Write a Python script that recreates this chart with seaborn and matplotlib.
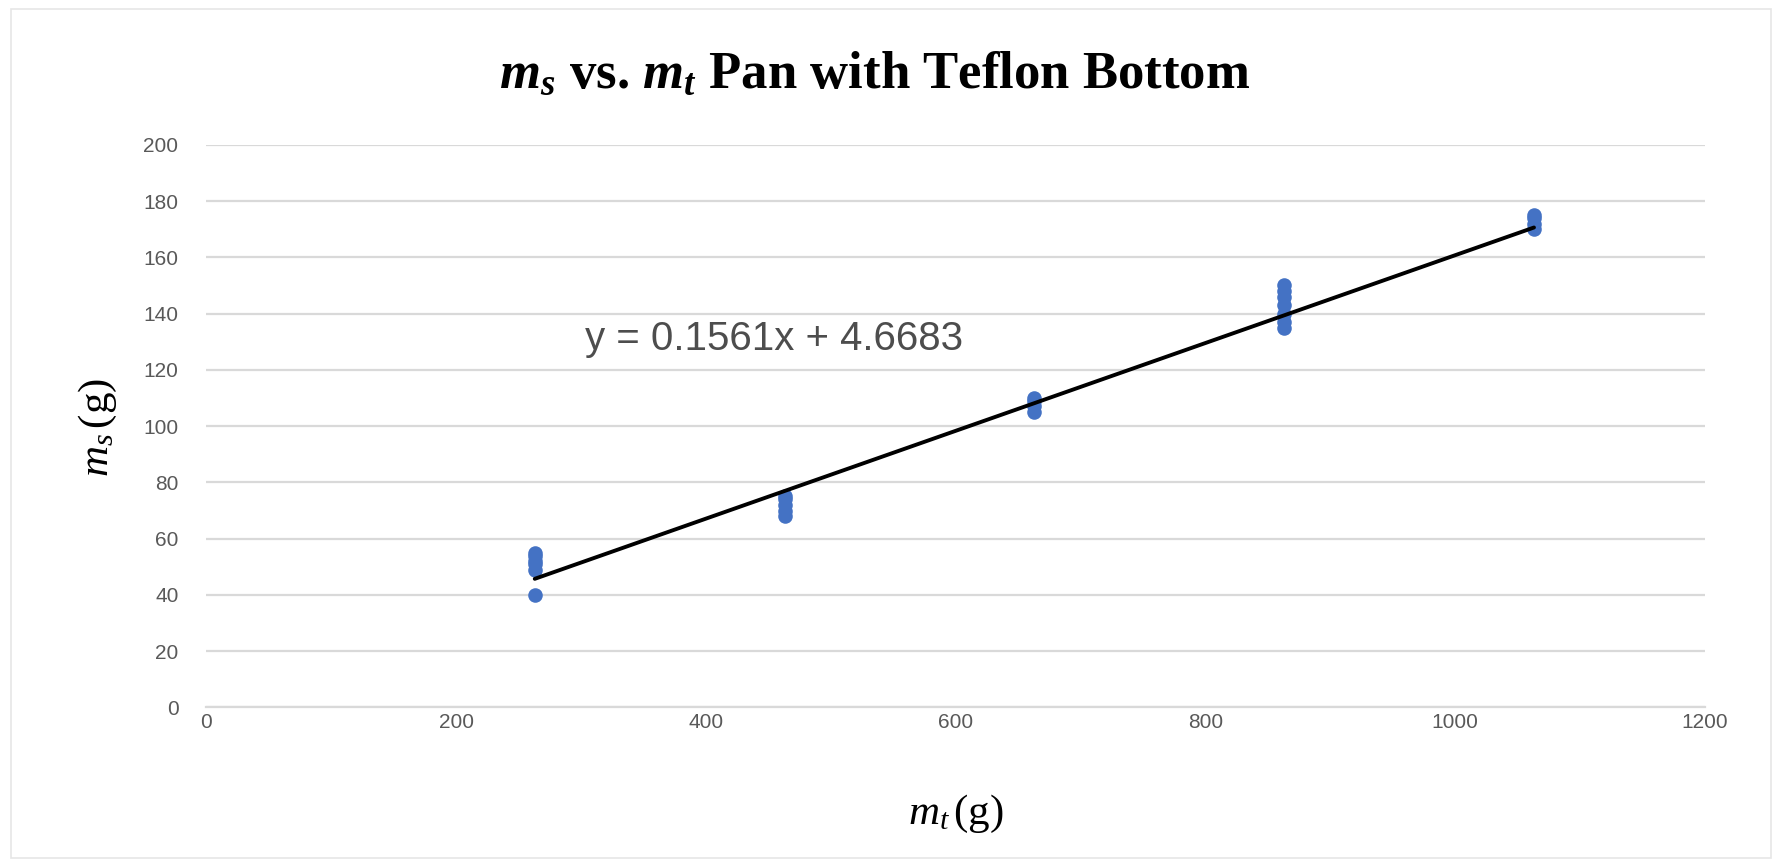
import numpy as np
import pandas as pd
import matplotlib
matplotlib.use("Agg")
import matplotlib.pyplot as plt
import seaborn as sns

# Data
mt_263 = [40, 49, 51, 52, 54, 55]
mt_463 = [68, 70, 72, 74, 75]
mt_663 = [105, 107, 109, 110]
mt_863 = [135, 137, 140, 143, 146, 148, 150]
mt_1063 = [170, 172, 174, 175]
x_levels = [263, 463, 663, 863, 1063]
slope = 0.1561
intercept = 4.6683
x_ticks = [0, 200, 400, 600, 800, 1000, 1200]
y_ticks = [0, 20, 40, 60, 80, 100, 120, 140, 160, 180, 200]

groups = [mt_263, mt_463, mt_663, mt_863, mt_1063]
df = pd.DataFrame({
    "mt": np.concatenate([[x] * len(g) for x, g in zip(x_levels, groups)]),
    "ms": np.concatenate(groups),
})
fit_x = np.array([min(x_levels), max(x_levels)])
fit_df = pd.DataFrame({"mt": fit_x, "ms": slope * fit_x + intercept})

sns.set_theme(style="white")
plt.rcParams["font.family"] = ["Liberation Sans", "DejaVu Sans"]
plt.rcParams["mathtext.fontset"] = "custom"
plt.rcParams["mathtext.rm"] = "Liberation Serif"
plt.rcParams["mathtext.it"] = "Liberation Serif:italic"
plt.rcParams["mathtext.bf"] = "Liberation Serif:bold"
plt.rcParams["mathtext.bfit"] = "Liberation Serif:italic:bold"

fig = plt.figure(figsize=(17.78, 8.67), dpi=100)
ax = fig.add_axes([0.116, 0.184, 0.843, 0.649])

sns.scatterplot(data=df, x="mt", y="ms", ax=ax, color="#4472C4",
                s=110, edgecolor="#4472C4", linewidth=0, zorder=3)
sns.lineplot(data=fit_df, x="mt", y="ms", ax=ax, color="black",
             linewidth=2.8, zorder=4)

ax.set_xlim(0, 1200)
ax.set_ylim(0, 200)
ax.set_xticks(x_ticks)
ax.set_yticks(y_ticks)
ax.yaxis.grid(True, color="#d9d9d9", linewidth=1.6)
ax.xaxis.grid(False)
for s in ["top", "right", "left"]:
    ax.spines[s].set_visible(False)
ax.spines["bottom"].set_color("#d9d9d9")
ax.spines["bottom"].set_linewidth(1.6)
ax.tick_params(axis="both", labelsize=15, colors="#595959", length=0)
ax.tick_params(axis="x", pad=4)
ax.tick_params(axis="y", pad=20)

ax.set_xlabel(r"$m_t\,$(g)", fontsize=31, color="black",
              family=["Liberation Serif"], va="center")
ax.xaxis.set_label_coords(0.50, -0.19)
ax.set_ylabel(r"$m_s\,$(g)", fontsize=31, color="black",
              family=["Liberation Serif"], va="center")
ax.yaxis.set_label_coords(-0.072, 0.497)

fig.suptitle(r"$\mathbfit{m}_{\mathbfit{s}}$ vs. $\mathbfit{m}_{\mathbfit{t}}$ Pan with Teflon Bottom",
             fontsize=38, fontweight="bold", family=["Liberation Serif"],
             x=0.492, y=0.914, va="center", color="black")

ax.text(303, 131, f"y = {slope}x + {intercept}", fontsize=29, color="#4d4d4d",
        ha="left", va="center")

# faint chart-area border
fig.patches.append(plt.Rectangle((0.006, 0.01), 0.99, 0.98, transform=fig.transFigure,
                                 fill=False, edgecolor="#e6e6e6", linewidth=1.2))

fig.savefig("out.png", dpi=100)
